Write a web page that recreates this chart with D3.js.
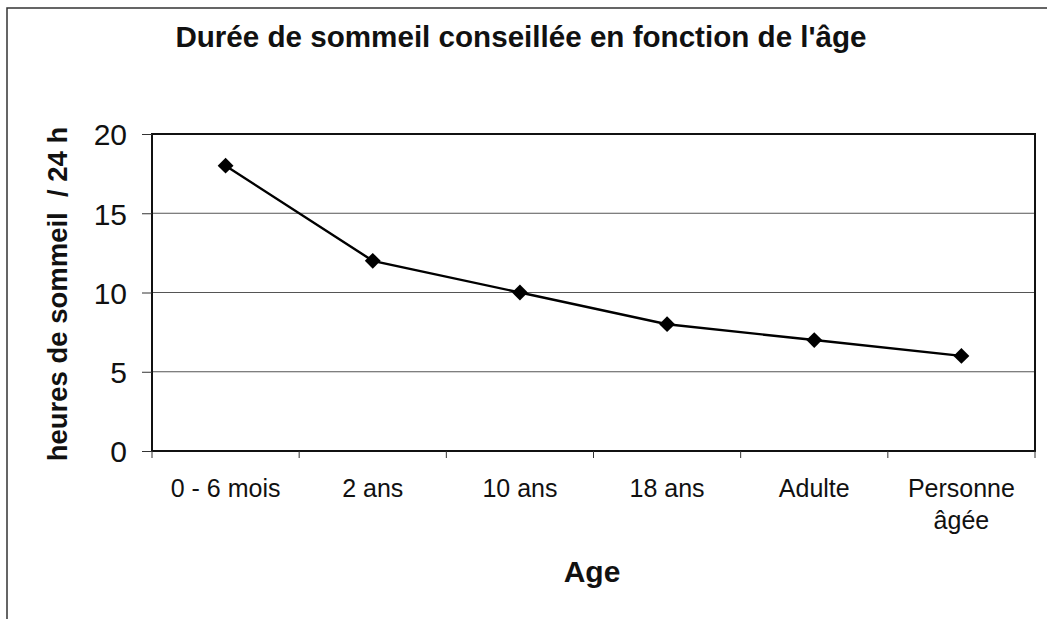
<!DOCTYPE html>
<html>
<head>
<meta charset="utf-8">
<script src="https://cdn.jsdelivr.net/npm/d3@7"></script>
<style>
  body { margin: 0; background: #fff; }
  svg { display: block; font-family: Arial, "Liberation Sans", sans-serif; }
</style>
</head>
<body>
<svg id="chart"></svg>
<script>
// chart data
const categories = ['0 - 6 mois', '2 ans', '10 ans', '18 ans', 'Adulte', 'Personne âgée'];
const sleepHours = [18, 12, 10, 8, 7, 6];
const yTicks = [0, 5, 10, 15, 20];

const width = 1047, height = 619;
const margin = { top: 134, left: 152, right: 12, bottom: 168 };
const innerW = width - margin.left - margin.right;
const innerH = height - margin.top - margin.bottom;

const svg = d3.select('#chart')
    .attr('width', width)
    .attr('height', height);

// outer frame (only top and left edges are in the picture)
svg.append('path')
    .attr('d', `M7,619 V8 H1047`)
    .attr('fill', 'none')
    .attr('stroke', '#333')
    .attr('stroke-width', 1.5);

const chart = svg.append('g')
    .attr('transform', `translate(${margin.left},${margin.top})`);

const xScale = d3.scaleBand()
    .domain(categories)
    .range([0, innerW]);

const yScale = d3.scaleLinear()
    .domain([0, 20])
    .range([innerH, 0]);

// gridlines
chart.append('g')
    .selectAll('line')
    .data(yTicks.filter(d => d > 0 && d < 20))
    .join('line')
    .attr('x1', 0)
    .attr('x2', innerW)
    .attr('y1', d => yScale(d))
    .attr('y2', d => yScale(d))
    .attr('stroke', '#555')
    .attr('stroke-width', 1);

// plot frame
chart.append('rect')
    .attr('width', innerW)
    .attr('height', innerH)
    .attr('fill', 'none')
    .attr('stroke', '#111')
    .attr('stroke-width', 2);

// y axis
const yAxis = d3.axisLeft(yScale)
    .tickValues(yTicks)
    .tickSize(10)
    .tickPadding(15);

const yAxisGroup = chart.append('g').call(yAxis);
yAxisGroup.select('.domain').remove();
yAxisGroup.selectAll('line').attr('stroke', '#333');
yAxisGroup.selectAll('text')
    .attr('font-size', 30)
    .attr('font-family', 'Arial, "Liberation Sans", sans-serif')
    .attr('fill', '#111')
    .attr('dy', '0.36em');

// x axis: ticks between categories
const xTickPos = d3.range(categories.length + 1).map(i => i * xScale.step());
chart.append('g')
    .selectAll('line')
    .data(xTickPos)
    .join('line')
    .attr('x1', d => d)
    .attr('x2', d => d)
    .attr('y1', innerH)
    .attr('y2', innerH + 7)
    .attr('stroke', '#333');

const xLabels = chart.append('g')
    .selectAll('text')
    .data(categories)
    .join('text')
    .attr('x', d => xScale(d) + xScale.bandwidth() / 2)
    .attr('y', innerH + 46)
    .attr('text-anchor', 'middle')
    .attr('font-size', 25)
    .attr('fill', '#111');

xLabels.each(function(d) {
    const words = d === 'Personne âgée' ? ['Personne', 'âgée'] : [d];
    d3.select(this).selectAll('tspan')
        .data(words)
        .join('tspan')
        .attr('x', xScale(d) + xScale.bandwidth() / 2)
        .attr('dy', (w, i) => i === 0 ? 0 : 32)
        .text(w => w);
});

// line
const line = d3.line()
    .x((d, i) => xScale(categories[i]) + xScale.bandwidth() / 2)
    .y(d => yScale(d));

chart.append('path')
    .datum(sleepHours)
    .attr('d', line)
    .attr('fill', 'none')
    .attr('stroke', '#000')
    .attr('stroke-width', 2.4);

// diamond markers
chart.selectAll('.point')
    .data(sleepHours)
    .join('path')
    .attr('class', 'point')
    .attr('d', d3.symbol().type(d3.symbolDiamond2).size(160))
    .attr('transform', (d, i) => `translate(${xScale(categories[i]) + xScale.bandwidth() / 2},${yScale(d)})`)
    .attr('fill', '#000');

// titles
svg.append('text')
    .attr('x', 521)
    .attr('y', 47)
    .attr('text-anchor', 'middle')
    .attr('font-size', 29.6)
    .attr('font-weight', 'bold')
    .attr('fill', '#111')
    .text("Durée de sommeil conseillée en fonction de l'âge");

svg.append('text')
    .attr('transform', `translate(67, 294) rotate(-90)`)
    .attr('text-anchor', 'middle')
    .attr('font-size', 27.5)
    .attr('font-weight', 'bold')
    .attr('fill', '#111')
    .attr('xml:space', 'preserve')
    .text('heures de sommeil  / 24 h');

svg.append('text')
    .attr('x', 592)
    .attr('y', 582)
    .attr('text-anchor', 'middle')
    .attr('font-size', 30)
    .attr('font-weight', 'bold')
    .attr('fill', '#111')
    .text('Age');
</script>
</body>
</html>
